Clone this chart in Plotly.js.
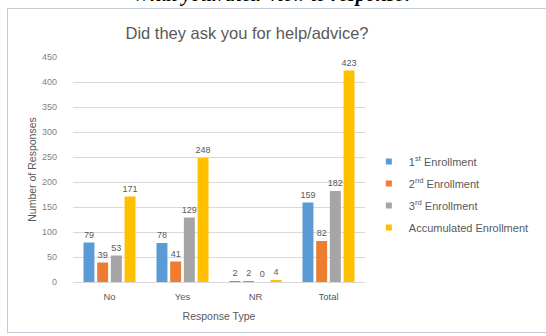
<!DOCTYPE html>
<html>
<head>
<meta charset="utf-8">
<script src="https://cdn.plot.ly/plotly-3.0.1.min.js"></script>
<style>
html,body{margin:0;padding:0;background:#fff;overflow:hidden;}
#wrap{position:relative;width:546px;height:336px;overflow:hidden;}
#chart{position:absolute;left:0;top:0;width:546px;height:336px;}
#frame{position:absolute;left:7px;top:8px;width:540px;height:325px;border:1px solid #c3ccd6;box-sizing:border-box;pointer-events:none;}
#cap{position:absolute;left:0;top:-17px;width:546px;text-align:center;font-family:"Liberation Serif",serif;font-style:italic;font-weight:bold;font-size:20px;line-height:23px;color:#000;white-space:nowrap;}
</style>
</head>
<body>
<div id="wrap">
<div id="chart"></div>
<div id="frame"></div>
<div id="cap">What your/their view to response?</div>
</div>
<script>
const categories = ["No", "Yes", "NR", "Total"];
const seriesNames = ["1<sup>st</sup> Enrollment", "2<sup>nd</sup> Enrollment", "3<sup>rd</sup> Enrollment", "Accumulated Enrollment"];
const enroll1 = [79, 78, 2, 159];
const enroll2 = [39, 41, 2, 82];
const enroll3 = [53, 129, 0, 182];
const accumulated = [171, 248, 4, 423];
const colors = ["#5B9BD5", "#ED7D31", "#A5A5A5", "#FFC000"];
const yTicks = [0, 50, 100, 150, 200, 250, 300, 350, 400, 450];

const allSeries = [enroll1, enroll2, enroll3, accumulated];
const barTraces = allSeries.map((vals, i) => ({
  type: "bar",
  name: seriesNames[i],
  x: categories,
  y: vals,
  marker: {color: colors[i]},
  text: vals.map(String),
  textposition: "outside",
  constraintext: "none",
  textfont: {family: "Liberation Sans, sans-serif", size: 9, color: "#595959"},
  cliponaxis: false,
  showlegend: false,
  hoverinfo: "none"
}));
// legend-only entries with small square keys, as in the reference
const legendTraces = seriesNames.map((name, i) => ({
  type: "scatter",
  mode: "markers",
  name: name,
  x: [null],
  y: [null],
  marker: {color: colors[i], symbol: "square", size: 6},
  legendgroup: "g" + i,
  hoverinfo: "none"
}));

const W = 546, H = 336, L = 73, R = 377;
const layout = {
  width: W, height: H,
  margin: {l: L, r: W - R, t: 57, b: 54},
  paper_bgcolor: "rgba(0,0,0,0)",
  plot_bgcolor: "rgba(0,0,0,0)",
  barmode: "group",
  bargap: 0.25,
  bargroupgap: 0.2,
  font: {family: "Liberation Sans, sans-serif", color: "#595959"},
  title: {
    text: "Did they ask you for help/advice?",
    x: 247/W, xanchor: "center", xref: "container",
    y: 1 - 33/H, yanchor: "middle", yref: "container",
    font: {family: "Liberation Sans, sans-serif", size: 16.5, color: "#595959"}
  },
  xaxis: {
    type: "category",
    categoryarray: categories,
    tickfont: {size: 9.5, color: "#595959"},
    showline: true, linecolor: "#d9d9d9", linewidth: 1,
    ticks: "", showgrid: false,
    ticklabelstandoff: 6,
    title: {text: "Response Type", font: {size: 10.5, color: "#595959"}, standoff: 11}
  },
  yaxis: {
    range: [0, 450],
    tickvals: yTicks,
    tickfont: {size: 9, color: "#7f7f7f"},
    gridcolor: "#d9d9d9", gridwidth: 1,
    zeroline: false, showline: false, ticks: "",
    ticklabelstandoff: 15,
    title: {text: "Number of Responses", font: {size: 10.5, color: "#595959"}, standoff: 3}
  },
  legend: {
    x: (381 - L) / (R - L), xref: "paper", xanchor: "left",
    y: (282 - 147) / (282 - 57), yref: "paper", yanchor: "top",
    font: {size: 11, color: "#595959"},
    tracegroupgap: 3,
    traceorder: "grouped",
    itemwidth: 30,
    bgcolor: "rgba(0,0,0,0)"
  },
  showlegend: true
};

Plotly.newPlot("chart", barTraces.concat(legendTraces), layout, {staticPlot: true, displayModeBar: false});
</script>
</body>
</html>
